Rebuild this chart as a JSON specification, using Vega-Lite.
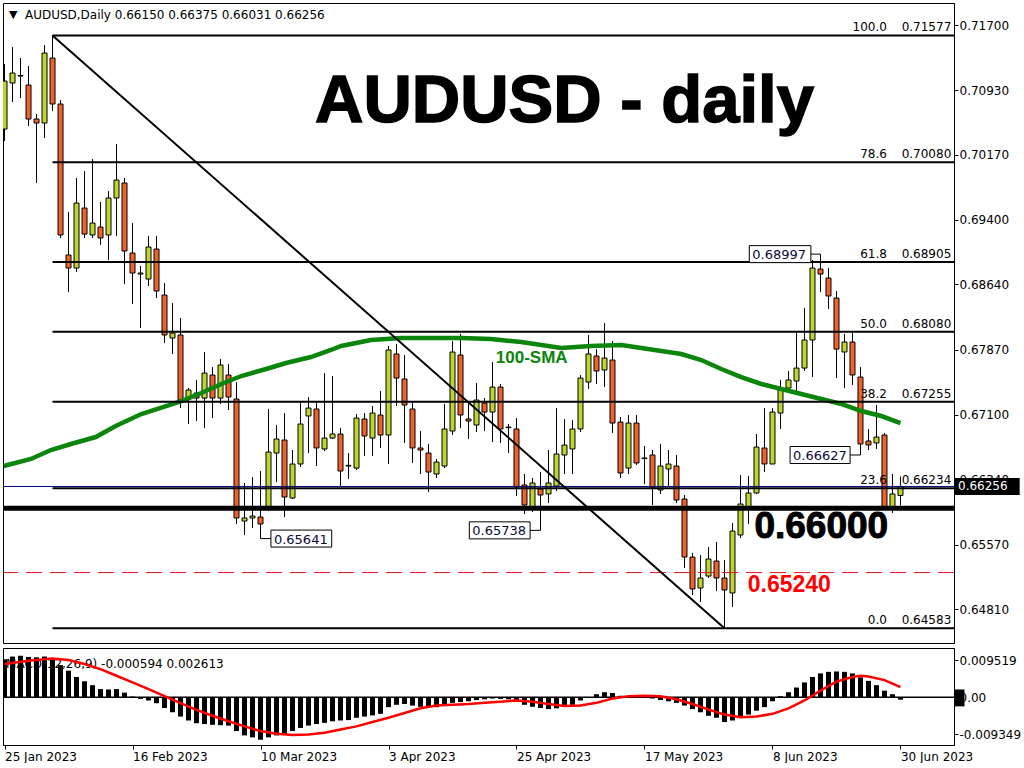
{
  "$schema": "https://vega.github.io/schema/vega-lite/v6.json",
  "background": "white",
  "padding": {"left": 2, "top": 2, "right": 0, "bottom": 0},
  "datasets": {
    "bars": [
      {"i":0,"o":0.70473,"h":0.71240,"l":0.70331,"c":0.71039,"m":0.0097},
      {"i":1,"o":0.71016,"h":0.71441,"l":0.70792,"c":0.71134,"m":0.0104},
      {"i":2,"o":0.71098,"h":0.71311,"l":0.70839,"c":0.71105,"m":0.0106},
      {"i":3,"o":0.70992,"h":0.71216,"l":0.70508,"c":0.70591,"m":0.0103},
      {"i":4,"o":0.70591,"h":0.70650,"l":0.69836,"c":0.70544,"m":0.0102},
      {"i":5,"o":0.70544,"h":0.71464,"l":0.70367,"c":0.71370,"m":0.0104},
      {"i":6,"o":0.71311,"h":0.71577,"l":0.70685,"c":0.70768,"m":0.0100},
      {"i":7,"o":0.70768,"h":0.70815,"l":0.69187,"c":0.69223,"m":0.0082},
      {"i":8,"o":0.68987,"h":0.69494,"l":0.68550,"c":0.68833,"m":0.0068},
      {"i":9,"o":0.68833,"h":0.69895,"l":0.68786,"c":0.69600,"m":0.0052},
      {"i":10,"o":0.69541,"h":0.69978,"l":0.69187,"c":0.69234,"m":0.0041},
      {"i":11,"o":0.69223,"h":0.70119,"l":0.69187,"c":0.69364,"m":0.0031},
      {"i":12,"o":0.69317,"h":0.69612,"l":0.69105,"c":0.69187,"m":0.0021},
      {"i":13,"o":0.69223,"h":0.69742,"l":0.68928,"c":0.69659,"m":0.0020},
      {"i":14,"o":0.69659,"h":0.70296,"l":0.69211,"c":0.69871,"m":0.0021},
      {"i":15,"o":0.69836,"h":0.69895,"l":0.68644,"c":0.69034,"m":0.0012},
      {"i":16,"o":0.69010,"h":0.69364,"l":0.68408,"c":0.68774,"m":0.0002},
      {"i":17,"o":0.68762,"h":0.68857,"l":0.68125,"c":0.68774,"m":-0.0004},
      {"i":18,"o":0.68703,"h":0.69211,"l":0.68621,"c":0.69081,"m":-0.0008},
      {"i":19,"o":0.69057,"h":0.69211,"l":0.68479,"c":0.68562,"m":-0.0015},
      {"i":20,"o":0.68515,"h":0.68656,"l":0.67948,"c":0.68043,"m":-0.0027},
      {"i":21,"o":0.68007,"h":0.68420,"l":0.67819,"c":0.68066,"m":-0.0038},
      {"i":22,"o":0.68043,"h":0.68243,"l":0.67181,"c":0.67276,"m":-0.0049},
      {"i":23,"o":0.67288,"h":0.67417,"l":0.66993,"c":0.67394,"m":-0.0059},
      {"i":24,"o":0.67358,"h":0.67512,"l":0.67028,"c":0.67299,"m":-0.0066},
      {"i":25,"o":0.67299,"h":0.67842,"l":0.66945,"c":0.67594,"m":-0.0068},
      {"i":26,"o":0.67571,"h":0.67665,"l":0.67063,"c":0.67299,"m":-0.0070},
      {"i":27,"o":0.67299,"h":0.67759,"l":0.67229,"c":0.67689,"m":-0.0071},
      {"i":28,"o":0.67571,"h":0.67700,"l":0.67158,"c":0.67311,"m":-0.0072},
      {"i":29,"o":0.67288,"h":0.67488,"l":0.65813,"c":0.65884,"m":-0.0086},
      {"i":30,"o":0.65848,"h":0.66297,"l":0.65683,"c":0.65884,"m":-0.0097},
      {"i":31,"o":0.65884,"h":0.66367,"l":0.65766,"c":0.65907,"m":-0.0102},
      {"i":32,"o":0.65895,"h":0.66438,"l":0.65641,"c":0.65813,"m":-0.0108},
      {"i":33,"o":0.66002,"h":0.67170,"l":0.65966,"c":0.66662,"m":-0.0102},
      {"i":34,"o":0.66650,"h":0.66981,"l":0.66308,"c":0.66816,"m":-0.0097},
      {"i":35,"o":0.66804,"h":0.67122,"l":0.65895,"c":0.66131,"m":-0.0095},
      {"i":36,"o":0.66120,"h":0.66686,"l":0.66108,"c":0.66521,"m":-0.0086},
      {"i":37,"o":0.66521,"h":0.67252,"l":0.66485,"c":0.66993,"m":-0.0078},
      {"i":38,"o":0.67087,"h":0.67311,"l":0.66650,"c":0.67181,"m":-0.0072},
      {"i":39,"o":0.67170,"h":0.67252,"l":0.66497,"c":0.66710,"m":-0.0068},
      {"i":40,"o":0.66698,"h":0.67594,"l":0.66674,"c":0.66827,"m":-0.0065},
      {"i":41,"o":0.66827,"h":0.67559,"l":0.66816,"c":0.66875,"m":-0.0061},
      {"i":42,"o":0.66875,"h":0.66945,"l":0.66261,"c":0.66438,"m":-0.0059},
      {"i":43,"o":0.66497,"h":0.66650,"l":0.66344,"c":0.66505,"m":-0.0058},
      {"i":44,"o":0.66473,"h":0.67110,"l":0.66450,"c":0.67063,"m":-0.0052},
      {"i":45,"o":0.67052,"h":0.67122,"l":0.66615,"c":0.66851,"m":-0.0049},
      {"i":46,"o":0.66827,"h":0.67205,"l":0.66615,"c":0.67122,"m":-0.0046},
      {"i":47,"o":0.67099,"h":0.67382,"l":0.66710,"c":0.66863,"m":-0.0042},
      {"i":48,"o":0.66863,"h":0.67913,"l":0.66521,"c":0.67866,"m":-0.0025},
      {"i":49,"o":0.67819,"h":0.67937,"l":0.67205,"c":0.67535,"m":-0.0019},
      {"i":50,"o":0.67524,"h":0.67807,"l":0.66769,"c":0.67217,"m":-0.0017},
      {"i":51,"o":0.67170,"h":0.67264,"l":0.66533,"c":0.66710,"m":-0.0021},
      {"i":52,"o":0.66710,"h":0.66910,"l":0.66403,"c":0.66686,"m":-0.0024},
      {"i":53,"o":0.66650,"h":0.66757,"l":0.66190,"c":0.66426,"m":-0.0025},
      {"i":54,"o":0.66403,"h":0.66580,"l":0.66356,"c":0.66544,"m":-0.0025},
      {"i":55,"o":0.66497,"h":0.67229,"l":0.66473,"c":0.66934,"m":-0.0021},
      {"i":56,"o":0.66910,"h":0.67972,"l":0.66863,"c":0.67842,"m":-0.0014},
      {"i":57,"o":0.67807,"h":0.68055,"l":0.66945,"c":0.67099,"m":-0.0012},
      {"i":58,"o":0.67052,"h":0.67264,"l":0.66816,"c":0.67028,"m":-0.0010},
      {"i":59,"o":0.66981,"h":0.67476,"l":0.66898,"c":0.67276,"m":-0.0007},
      {"i":60,"o":0.67240,"h":0.67299,"l":0.66910,"c":0.67134,"m":-0.0005},
      {"i":61,"o":0.67134,"h":0.67724,"l":0.66780,"c":0.67429,"m":-0.0003},
      {"i":62,"o":0.67429,"h":0.67465,"l":0.66769,"c":0.66934,"m":-0.0004},
      {"i":63,"o":0.66957,"h":0.66993,"l":0.66650,"c":0.66950,"m":-0.0005},
      {"i":64,"o":0.66934,"h":0.67063,"l":0.66143,"c":0.66249,"m":-0.0010},
      {"i":65,"o":0.66273,"h":0.66403,"l":0.65931,"c":0.66037,"m":-0.0019},
      {"i":66,"o":0.66013,"h":0.66356,"l":0.65954,"c":0.66297,"m":-0.0024},
      {"i":67,"o":0.66226,"h":0.66426,"l":0.65738,"c":0.66155,"m":-0.0027},
      {"i":68,"o":0.66167,"h":0.66686,"l":0.66061,"c":0.66297,"m":-0.0030},
      {"i":69,"o":0.66261,"h":0.67181,"l":0.66202,"c":0.66639,"m":-0.0028},
      {"i":70,"o":0.66627,"h":0.67052,"l":0.66403,"c":0.66745,"m":-0.0024},
      {"i":71,"o":0.66698,"h":0.67040,"l":0.66403,"c":0.66934,"m":-0.0019},
      {"i":72,"o":0.66934,"h":0.67571,"l":0.66898,"c":0.67535,"m":-0.0008},
      {"i":73,"o":0.67488,"h":0.68043,"l":0.67406,"c":0.67819,"m":0.0001},
      {"i":74,"o":0.67795,"h":0.67877,"l":0.67465,"c":0.67618,"m":0.0008},
      {"i":75,"o":0.67630,"h":0.68184,"l":0.67429,"c":0.67771,"m":0.0013},
      {"i":76,"o":0.67748,"h":0.67972,"l":0.66886,"c":0.67004,"m":0.0011},
      {"i":77,"o":0.67016,"h":0.67075,"l":0.66356,"c":0.66415,"m":0.0004},
      {"i":78,"o":0.66473,"h":0.67099,"l":0.66403,"c":0.67004,"m":0.0003},
      {"i":79,"o":0.67004,"h":0.67099,"l":0.66509,"c":0.66533,"m":0.0003},
      {"i":80,"o":0.66592,"h":0.66733,"l":0.66285,"c":0.66585,"m":0.0002},
      {"i":81,"o":0.66627,"h":0.66686,"l":0.66037,"c":0.66238,"m":-0.0003},
      {"i":82,"o":0.66214,"h":0.66757,"l":0.66167,"c":0.66497,"m":-0.0007},
      {"i":83,"o":0.66462,"h":0.66686,"l":0.66261,"c":0.66521,"m":-0.0010},
      {"i":84,"o":0.66497,"h":0.66627,"l":0.66061,"c":0.66096,"m":-0.0014},
      {"i":85,"o":0.66108,"h":0.66155,"l":0.65294,"c":0.65423,"m":-0.0021},
      {"i":86,"o":0.65423,"h":0.65471,"l":0.64975,"c":0.65046,"m":-0.0030},
      {"i":87,"o":0.65058,"h":0.65447,"l":0.64893,"c":0.65176,"m":-0.0038},
      {"i":88,"o":0.65199,"h":0.65542,"l":0.65176,"c":0.65400,"m":-0.0047},
      {"i":89,"o":0.65376,"h":0.65601,"l":0.65022,"c":0.65176,"m":-0.0052},
      {"i":90,"o":0.65176,"h":0.65388,"l":0.64583,"c":0.65034,"m":-0.0063},
      {"i":91,"o":0.64999,"h":0.65825,"l":0.64834,"c":0.65730,"m":-0.0059},
      {"i":92,"o":0.65683,"h":0.66391,"l":0.65648,"c":0.66049,"m":-0.0051},
      {"i":93,"o":0.66002,"h":0.66379,"l":0.65813,"c":0.66179,"m":-0.0044},
      {"i":94,"o":0.66179,"h":0.66875,"l":0.66167,"c":0.66721,"m":-0.0034},
      {"i":95,"o":0.66710,"h":0.67181,"l":0.66426,"c":0.66521,"m":-0.0025},
      {"i":96,"o":0.66521,"h":0.67181,"l":0.66521,"c":0.67134,"m":-0.0010},
      {"i":97,"o":0.67122,"h":0.67512,"l":0.66934,"c":0.67394,"m":0.0003},
      {"i":98,"o":0.67417,"h":0.67618,"l":0.67370,"c":0.67512,"m":0.0013},
      {"i":99,"o":0.67500,"h":0.68090,"l":0.67382,"c":0.67653,"m":0.0025},
      {"i":100,"o":0.67653,"h":0.68361,"l":0.67618,"c":0.67984,"m":0.0038},
      {"i":101,"o":0.67984,"h":0.68928,"l":0.67547,"c":0.68833,"m":0.0052},
      {"i":102,"o":0.68821,"h":0.68997,"l":0.68550,"c":0.68762,"m":0.0061},
      {"i":103,"o":0.68715,"h":0.68833,"l":0.68349,"c":0.68503,"m":0.0065},
      {"i":104,"o":0.68479,"h":0.68562,"l":0.67535,"c":0.67877,"m":0.0066},
      {"i":105,"o":0.67842,"h":0.68055,"l":0.67417,"c":0.67960,"m":0.0065},
      {"i":106,"o":0.67960,"h":0.68066,"l":0.67453,"c":0.67571,"m":0.0061},
      {"i":107,"o":0.67547,"h":0.67665,"l":0.66627,"c":0.66757,"m":0.0051},
      {"i":108,"o":0.66792,"h":0.66934,"l":0.66686,"c":0.66745,"m":0.0042},
      {"i":109,"o":0.66769,"h":0.67217,"l":0.66698,"c":0.66839,"m":0.0031},
      {"i":110,"o":0.66863,"h":0.66886,"l":0.65978,"c":0.66002,"m":0.0017},
      {"i":111,"o":0.66013,"h":0.66403,"l":0.65943,"c":0.66167,"m":0.0008},
      {"i":112,"o":0.66150,"h":0.66375,"l":0.66031,"c":0.66256,"m":-0.000594}
    ],
    "signal": [
      {"i":0,"s":0.0085},{"i":3,"s":0.0093},{"i":6,"s":0.0099},{"i":8,"s":0.0095},
      {"i":10,"s":0.0085},{"i":12,"s":0.0072},{"i":14,"s":0.0055},{"i":16,"s":0.0038},
      {"i":18,"s":0.0021},{"i":20,"s":0.0003},{"i":22,"s":-0.0015},{"i":24,"s":-0.0032},
      {"i":26,"s":-0.0047},{"i":28,"s":-0.0061},{"i":30,"s":-0.0074},{"i":32,"s":-0.0086},
      {"i":34,"s":-0.0093},{"i":36,"s":-0.0096},{"i":38,"s":-0.0095},{"i":40,"s":-0.0090},
      {"i":42,"s":-0.0082},{"i":44,"s":-0.0074},{"i":46,"s":-0.0063},{"i":48,"s":-0.0052},
      {"i":50,"s":-0.0040},{"i":52,"s":-0.0028},{"i":54,"s":-0.0021},{"i":56,"s":-0.0019},
      {"i":58,"s":-0.0017},{"i":60,"s":-0.0014},{"i":62,"s":-0.0011},{"i":64,"s":-0.0008},
      {"i":66,"s":-0.0011},{"i":68,"s":-0.0017},{"i":70,"s":-0.0022},{"i":72,"s":-0.0021},
      {"i":74,"s":-0.0014},{"i":76,"s":-0.0003},{"i":78,"s":0.0003},{"i":80,"s":0.0004},
      {"i":82,"s":0.0003},{"i":84,"s":-0.0005},{"i":86,"s":-0.0017},{"i":88,"s":-0.0031},
      {"i":90,"s":-0.0044},{"i":92,"s":-0.0051},{"i":94,"s":-0.0049},{"i":96,"s":-0.0042},
      {"i":98,"s":-0.0028},{"i":100,"s":-0.0008},{"i":102,"s":0.0017},{"i":104,"s":0.0040},
      {"i":106,"s":0.0052},{"i":107,"s":0.0055},{"i":108,"s":0.0053},{"i":110,"s":0.0044},
      {"i":112,"s":0.002613}
    ],
    "sma": [
      {"i":-0.1,"v":0.66497},{"i":3.3,"v":0.66580},{"i":5.8,"v":0.66686},{"i":8.3,"v":0.66757},
      {"i":11.4,"v":0.66839},{"i":13.9,"v":0.66969},{"i":17.1,"v":0.67111},{"i":20.2,"v":0.67205},
      {"i":22.1,"v":0.67264},{"i":24.6,"v":0.67358},{"i":27.1,"v":0.67465},{"i":29.6,"v":0.67559},
      {"i":32.7,"v":0.67642},{"i":35.2,"v":0.67712},{"i":38.3,"v":0.67783},{"i":40.8,"v":0.67866},
      {"i":42.1,"v":0.67913},{"i":45.8,"v":0.67984},{"i":49.6,"v":0.68007},{"i":53.3,"v":0.68007},
      {"i":57.1,"v":0.68007},{"i":60.8,"v":0.67995},{"i":64.6,"v":0.67960},{"i":67.1,"v":0.67925},
      {"i":69.6,"v":0.67889},{"i":73.3,"v":0.67913},{"i":77.1,"v":0.67925},{"i":79.6,"v":0.67889},
      {"i":82.1,"v":0.67854},{"i":84.6,"v":0.67819},{"i":87.1,"v":0.67748},{"i":89.6,"v":0.67642},
      {"i":92.1,"v":0.67547},{"i":94.6,"v":0.67465},{"i":97.1,"v":0.67406},{"i":99.6,"v":0.67347},
      {"i":102.1,"v":0.67288},{"i":104.6,"v":0.67229},{"i":107.1,"v":0.67146},{"i":109.6,"v":0.67087},
      {"i":112,"v":0.67004}
    ],
    "fib": [
      {"lv":"100.0","p":0.71577},{"lv":"78.6","p":0.70080},{"lv":"61.8","p":0.68905},
      {"lv":"50.0","p":0.68080},{"lv":"38.2","p":0.67255},{"lv":"23.6","p":0.66234},
      {"lv":"0.0","p":0.64583}
    ],
    "tags": [
      {"p":0.65641,"i":32,"a":33.3,"b":40.9},
      {"p":0.65738,"i":67,"a":58.1,"b":65.7},
      {"p":0.66627,"i":107,"a":98.2,"b":105.7},
      {"p":0.68997,"i":102,"a":93.1,"b":100.8}
    ]
  },
  "config": {
    "view": {"stroke": "#000000", "strokeWidth": 1},
    "concat": {"spacing": 3},
    "axis": {
      "labelFont": "DejaVu Sans", "labelFontSize": 12, "labelColor": "#000000",
      "domainColor": "#000000", "tickColor": "#000000", "grid": false, "title": null
    },
    "text": {"font": "DejaVu Sans"}
  },
  "vconcat": [
    {
      "width": 951,
      "height": 640,
      "layer": [
        {
          "data": {"name": "bars"},
          "mark": {"type": "rule", "color": "#000000", "strokeWidth": 1, "clip": true},
          "encoding": {
            "x": {"field": "i", "type": "quantitative", "scale": {"domain": [-0.19, 118.69], "nice": false, "zero": false, "padding": 0}, "axis": null},
            "y": {"field": "l", "type": "quantitative", "scale": {"domain": [0.64409, 0.71960], "nice": false, "zero": false},
                  "axis": {"orient": "right", "values": [0.717, 0.7093, 0.7017, 0.694, 0.6864, 0.6787, 0.671, 0.6634, 0.6557, 0.6481], "format": ".5f", "tickSize": 4, "labelPadding": 1}},
            "y2": {"field": "h"}
          }
        },
        {
          "data": {"name": "bars"},
          "mark": {"type": "bar", "width": 5, "stroke": "#000000", "strokeWidth": 1, "clip": true},
          "encoding": {
            "x": {"field": "i", "type": "quantitative"},
            "y": {"field": "o", "type": "quantitative"},
            "y2": {"field": "c"},
            "color": {"condition": {"test": "datum.c >= datum.o", "value": "#bed530"}, "value": "#f0622a"}
          }
        },
        {
          "data": {"name": "sma"},
          "mark": {"type": "line", "color": "#0b850b", "strokeWidth": 4.5, "clip": true},
          "encoding": {
            "x": {"field": "i", "type": "quantitative"},
            "y": {"field": "v", "type": "quantitative"}
          }
        },
        {
          "data": {"name": "fib"},
          "mark": {"type": "rule", "color": "#000000", "strokeWidth": 2, "clip": true},
          "encoding": {
            "x": {"datum": 6},
            "x2": {"datum": 118.69},
            "y": {"field": "p", "type": "quantitative"}
          }
        },
        {
          "data": {"name": "fib"},
          "mark": {"type": "text", "align": "right", "baseline": "alphabetic", "dy": -4, "fontSize": 12, "color": "#000000"},
          "encoding": {
            "x": {"datum": 110.3},
            "y": {"field": "p", "type": "quantitative"},
            "text": {"field": "lv"}
          }
        },
        {
          "data": {"name": "fib"},
          "mark": {"type": "text", "align": "right", "baseline": "alphabetic", "dy": -4, "fontSize": 12, "color": "#000000"},
          "encoding": {
            "x": {"datum": 118.35},
            "y": {"field": "p", "type": "quantitative"},
            "text": {"field": "p", "format": ".5f"}
          }
        },
        {
          "data": {"values": [{"p": 0.66256}]},
          "mark": {"type": "rule", "color": "#000080", "strokeWidth": 1, "clip": true},
          "encoding": {"y": {"field": "p", "type": "quantitative"}}
        },
        {
          "data": {"values": [{"p": 0.66}]},
          "mark": {"type": "rule", "color": "#000000", "strokeWidth": 5, "clip": true},
          "encoding": {"y": {"field": "p", "type": "quantitative"}}
        },
        {
          "data": {"values": [{"p": 0.6524}]},
          "mark": {"type": "rule", "color": "#e8141b", "strokeWidth": 1, "strokeDash": [16, 8], "clip": true},
          "encoding": {"y": {"field": "p", "type": "quantitative"}}
        },
        {
          "data": {"values": [{"a": 6, "pa": 0.71577, "b": 90, "pb": 0.64583}]},
          "mark": {"type": "rule", "color": "#000000", "strokeWidth": 2, "clip": true},
          "encoding": {
            "x": {"field": "a", "type": "quantitative"},
            "x2": {"field": "b"},
            "y": {"field": "pa", "type": "quantitative"},
            "y2": {"field": "pb"}
          }
        },
        {
          "data": {"name": "tags"},
          "mark": {"type": "rule", "color": "#000000", "strokeWidth": 1},
          "encoding": {
            "x": {"field": "i", "type": "quantitative"},
            "x2": {"field": "a"},
            "y": {"field": "p", "type": "quantitative"}
          }
        },
        {
          "data": {"name": "tags"},
          "mark": {"type": "rect", "fill": "#ffffff", "stroke": "#000000", "strokeWidth": 1, "yOffset": -8.5, "y2Offset": 8.5},
          "encoding": {
            "x": {"field": "a", "type": "quantitative"},
            "x2": {"field": "b"},
            "y": {"field": "p", "type": "quantitative"},
            "y2": {"field": "p"}
          }
        },
        {
          "data": {"name": "tags"},
          "mark": {"type": "text", "align": "left", "baseline": "middle", "dx": 3, "dy": 1, "fontSize": 13, "color": "#0a0a3c"},
          "encoding": {
            "x": {"field": "a", "type": "quantitative"},
            "y": {"field": "p", "type": "quantitative"},
            "text": {"field": "p", "format": ".5f"}
          }
        },
        {
          "data": {"values": [{"t": "▼"}]},
          "mark": {"type": "text", "align": "center", "baseline": "middle", "fontSize": 11, "color": "#000000"},
          "encoding": {"x": {"datum": 1.1}, "y": {"datum": 0.71820}, "text": {"field": "t"}}
        },
        {
          "data": {"values": [{"t": "AUDUSD,Daily  0.66150 0.66375 0.66031 0.66256"}]},
          "mark": {"type": "text", "align": "left", "baseline": "middle", "fontSize": 12, "color": "#000000"},
          "encoding": {"x": {"datum": 2.55}, "y": {"datum": 0.71820}, "text": {"field": "t"}}
        },
        {
          "data": {"values": [{"t": "AUDUSD - daily"}]},
          "mark": {"type": "text", "align": "center", "baseline": "alphabetic", "font": "Liberation Sans", "fontWeight": "bold", "fontSize": 67, "color": "#000000", "stroke": "#000000", "strokeWidth": 1.5},
          "encoding": {"x": {"datum": 70}, "y": {"datum": 0.70555}, "text": {"field": "t"}}
        },
        {
          "data": {"values": [{"t": "100-SMA"}]},
          "mark": {"type": "text", "align": "center", "baseline": "alphabetic", "font": "Liberation Sans", "fontWeight": "bold", "fontSize": 17, "color": "#0b850b"},
          "encoding": {"x": {"datum": 65.9}, "y": {"datum": 0.67712}, "text": {"field": "t"}}
        },
        {
          "data": {"values": [{"t": "0.66000"}]},
          "mark": {"type": "text", "align": "center", "baseline": "alphabetic", "font": "Liberation Sans", "fontWeight": "bold", "fontSize": 37, "color": "#000000", "stroke": "#000000", "strokeWidth": 1},
          "encoding": {"x": {"datum": 102.1}, "y": {"datum": 0.65648}, "text": {"field": "t"}}
        },
        {
          "data": {"values": [{"t": "0.65240"}]},
          "mark": {"type": "text", "align": "center", "baseline": "alphabetic", "font": "Liberation Sans", "fontWeight": "bold", "fontSize": 23, "color": "#ff0000"},
          "encoding": {"x": {"datum": 98.1}, "y": {"datum": 0.65011}, "text": {"field": "t"}}
        },
        {
          "data": {"values": [{"p": 0.66256}]},
          "mark": {"type": "rect", "fill": "#000000", "yOffset": -8.5, "y2Offset": 8.5},
          "encoding": {
            "x": {"datum": 118.69},
            "x2": {"datum": 126.9},
            "y": {"field": "p", "type": "quantitative"},
            "y2": {"field": "p"}
          }
        },
        {
          "data": {"values": [{"p": 0.66256}]},
          "mark": {"type": "text", "align": "left", "baseline": "middle", "dx": 4, "fontSize": 12, "color": "#ffffff"},
          "encoding": {
            "x": {"datum": 118.69},
            "y": {"field": "p", "type": "quantitative"},
            "text": {"field": "p", "format": ".5f"}
          }
        }
      ]
    },
    {
      "width": 951,
      "height": 97,
      "layer": [
        {
          "data": {"values": [{"t": "MACD(12,26,9) -0.000594 0.002613"}]},
          "mark": {"type": "text", "align": "left", "baseline": "middle", "fontSize": 12, "color": "#000000"},
          "encoding": {
            "x": {"datum": 0.2, "scale": {"domain": [-0.19, 118.69], "nice": false, "zero": false, "padding": 0},
                  "axis": {"orient": "bottom", "values": [0, 16, 32, 48, 64, 80, 96, 112], "tickSize": 4, "labelPadding": 2, "labelAlign": "left", "labelBaseline": "top", "labelFlush": false,
                           "labelExpr": "['25 Jan 2023','16 Feb 2023','10 Mar 2023','3 Apr 2023','25 Apr 2023','17 May 2023','8 Jun 2023','30 Jun 2023'][round(datum.value / 16)]"}},
            "y": {"datum": 0.0085, "scale": {"domain": [-0.01215, 0.01258], "nice": false, "zero": false},
                  "axis": {"orient": "right", "values": [0.009519, 0, -0.009349], "tickSize": 4, "labelPadding": 1,
                           "labelExpr": "datum.value > 0.005 ? '0.009519' : (datum.value < -0.005 ? '-0.009349' : '0.00')"}},
            "text": {"field": "t"}
          }
        },
        {
          "data": {"name": "bars"},
          "mark": {"type": "bar", "width": 5, "color": "#000000", "clip": true},
          "encoding": {
            "x": {"field": "i", "type": "quantitative"},
            "y": {"field": "m", "type": "quantitative"},
            "y2": {"datum": 0}
          }
        },
        {
          "data": {"values": [{"z": 0}]},
          "mark": {"type": "rule", "color": "#000000", "strokeWidth": 1.5, "clip": true},
          "encoding": {"y": {"field": "z", "type": "quantitative"}}
        },
        {
          "data": {"name": "signal"},
          "mark": {"type": "line", "color": "#ff0000", "strokeWidth": 2.5, "clip": true},
          "encoding": {
            "x": {"field": "i", "type": "quantitative"},
            "y": {"field": "s", "type": "quantitative"}
          }
        },
        {
          "data": {"values": [{"a": 118.69, "b": 120.0, "lo": -0.0023, "hi": 0.0020}]},
          "mark": {"type": "rect", "fill": "#000000"},
          "encoding": {
            "x": {"field": "a", "type": "quantitative"},
            "x2": {"field": "b"},
            "y": {"field": "lo", "type": "quantitative"},
            "y2": {"field": "hi"}
          }
        }
      ]
    }
  ]
}
